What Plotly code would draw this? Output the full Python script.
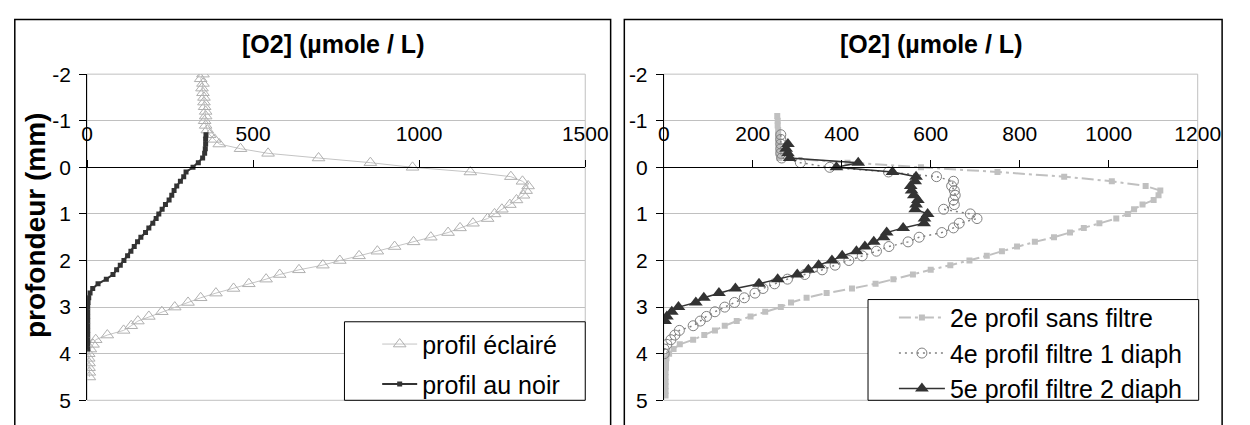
import plotly.graph_objects as go

# ---------------- data ----------------
depth_eclaire = [-2.0, -1.9, -1.8, -1.7, -1.6, -1.5, -1.4, -1.3, -1.2, -1.1,
                 -1.0, -0.9, -0.8, -0.7, -0.6, -0.5, -0.4, -0.3, -0.2, -0.1,
                 0.0, 0.1, 0.2, 0.3, 0.4, 0.5, 0.6, 0.7, 0.8, 0.9,
                 1.0, 1.1, 1.2, 1.3, 1.4, 1.5, 1.6, 1.7, 1.8, 1.9,
                 2.0, 2.1, 2.2, 2.3, 2.4, 2.5, 2.6, 2.7, 2.8, 2.9,
                 3.0, 3.1, 3.2, 3.3, 3.4, 3.5, 3.6, 3.7, 3.8, 3.9,
                 4.0, 4.1, 4.2, 4.3, 4.4, 4.5]
o2_eclaire = [349, 342, 349, 346, 349, 352, 352, 354, 357, 357,
              354, 357, 362, 369, 384, 398, 462, 545, 697, 853,
              980, 1154, 1276, 1311, 1328, 1322, 1314, 1293, 1273, 1249,
              1227, 1206, 1162, 1123, 1087, 1035, 983, 926, 874, 819,
              761, 710, 638, 580, 539, 487, 441, 388, 342, 304,
              264, 225, 186, 153, 133, 110, 61, 26, 18, 10,
              5, 5, 6, 6, 7, 7]

depth_noir = [-0.7, -0.6, -0.5, -0.4, -0.3, -0.2, -0.1,
              0.0, 0.1, 0.2, 0.3, 0.4, 0.5, 0.6, 0.7, 0.8, 0.9,
              1.0, 1.1, 1.2, 1.3, 1.4, 1.5, 1.6, 1.7, 1.8, 1.9,
              2.0, 2.1, 2.2, 2.3, 2.4, 2.5, 2.6, 2.7, 2.8, 2.9,
              3.0, 3.1, 3.2, 3.3, 3.4, 3.5, 3.6, 3.7, 3.8, 3.9]
o2_noir = [358, 357, 357, 356, 354, 348, 335,
           319, 298, 291, 281, 270, 262, 255, 247, 236, 226,
           216, 208, 198, 186, 176, 162, 152, 142, 132, 122,
           111, 100, 89, 78, 58, 33, 17, 9, 5, 3,
           2, 2, 2, 2, 2, 2, 2, 2, 2, 2]

depth_sans = [-1.1, -1.0, -0.9, -0.8, -0.7, -0.6, -0.5, -0.4, -0.3, -0.2, -0.1,
              0.0, 0.1, 0.2, 0.3, 0.4, 0.5, 0.6, 0.7, 0.8, 0.9,
              1.0, 1.1, 1.2, 1.3, 1.4, 1.5, 1.6, 1.7, 1.8, 1.9,
              2.0, 2.1, 2.2, 2.3, 2.4, 2.5, 2.6, 2.7, 2.8, 2.9,
              3.0, 3.1, 3.2, 3.3, 3.4, 3.5, 3.6, 3.7, 3.8, 3.9,
              4.0, 4.1, 4.2, 4.3, 4.4, 4.5, 4.6, 4.7, 4.8, 4.9]
o2_sans = [255, 256, 256, 257, 257, 257, 258, 258, 258, 260, 413,
           578, 750, 900, 1007, 1083, 1116, 1112, 1101, 1076, 1057,
           1043, 1017, 979, 944, 913, 877, 834, 794, 760, 726,
           687, 644, 600, 560, 516, 476, 423, 366, 321, 286,
           263, 228, 195, 164, 137, 115, 91, 66, 36, 22,
           12, 6, 5, 5, 4, 4, 4, 4, 4, 4]

depth_f1 = [-0.7, -0.6, -0.5, -0.4, -0.3, -0.2, -0.1,
            0.0, 0.1, 0.2, 0.3, 0.4, 0.5, 0.6, 0.7, 0.8, 0.9,
            1.0, 1.1, 1.2, 1.3, 1.4, 1.5, 1.6, 1.7, 1.8, 1.9,
            2.0, 2.1, 2.2, 2.3, 2.4, 2.5, 2.6, 2.7, 2.8, 2.9,
            3.0, 3.1, 3.2, 3.3, 3.4, 3.5, 3.6, 3.7, 3.8, 3.9, 4.0]
o2_f1 = [263, 263, 263, 263, 263, 265, 307,
         373, 505, 613, 651, 647, 653, 655, 651, 653, 629,
         689, 704, 664, 651, 625, 574, 549, 506, 478, 446,
         416, 385, 356, 317, 278, 249, 223, 205, 181, 159,
         137, 115, 96, 82, 66, 35, 25, 16, 7, 1, 1]

depth_f2 = [-0.5, -0.4, -0.3, -0.2, -0.1,
            0.0, 0.1, 0.2, 0.3, 0.4, 0.5, 0.6, 0.7, 0.8, 0.9,
            1.0, 1.1, 1.2, 1.3, 1.4, 1.5, 1.6, 1.7, 1.8, 1.9,
            2.0, 2.1, 2.2, 2.3, 2.4, 2.5, 2.6, 2.7, 2.8, 2.9,
            3.0, 3.1, 3.2, 3.3]
o2_f2 = [279, 275, 279, 283, 437,
         388, 514, 567, 565, 555, 557, 562, 571, 567, 565,
         593, 586, 585, 538, 501, 494, 472, 452, 433, 401,
         378, 348, 325, 300, 256, 214, 161, 124, 90, 72,
         33, 18, 7, 3]

y_ticks = [-2, -1, 0, 1, 2, 3, 4, 5]
y_ticktext = ["-2", "-1", "0", "1", "2", "3", "4", "5"]
x_ticks_left = [0, 500, 1000, 1500]
x_ticks_right = [0, 200, 400, 600, 800, 1000, 1200]

title_text = "[O2] (µmole / L)"
y_title = "profondeur (mm)"

# ---------------- layout geometry (pixels) ----------------
W, H = 1250, 425
FONT = "Liberation Sans, Arial, sans-serif"
left_px = (83, 593)
right_px = (673.4, 1220)
top_px, bot_px = 65.7, 410.5
y_range = [5, -2]


def px_x(p):
    return p / W


def px_y(p):
    return 1 - p / H


yd = [px_y(bot_px), px_y(top_px)]
# x axis crosses the y axis at depth 0
frac0 = (y_range[0] - 0) / (y_range[0] - y_range[1])
x_axis_pos = yd[0] + frac0 * (yd[1] - yd[0])

fig = go.Figure()

fig.add_trace(go.Scatter(
    x=o2_eclaire, y=depth_eclaire, name="profil éclairé", mode="lines+markers",
    line=dict(color="#c4c4c4", width=1),
    marker=dict(symbol="triangle-up-open", size=11, color="#b0b0b0", line=dict(width=1)),
    xaxis="x", yaxis="y", legend="legend", legendgroup="a"))
fig.add_trace(go.Scatter(
    x=o2_noir, y=depth_noir, name="profil au noir", mode="lines+markers",
    line=dict(color="#333333", width=2),
    marker=dict(symbol="square", size=5, color="#333333"),
    xaxis="x", yaxis="y", legend="legend", legendgroup="b"))

fig.add_trace(go.Scatter(
    x=o2_sans, y=depth_sans, name="2e profil sans filtre", mode="lines+markers",
    line=dict(color="#c0c0c0", width=2, dash="12px,4px,3px,4px"),
    marker=dict(symbol="square", size=6, color="#c0c0c0"),
    xaxis="x2", yaxis="y2", legend="legend2"))
fig.add_trace(go.Scatter(
    x=o2_f1, y=depth_f1, name="4e profil filtre 1 diaph", mode="lines+markers",
    line=dict(color="#808080", width=1.5, dash="2px,4px"),
    marker=dict(symbol="circle-open", size=10, color="#808080", line=dict(width=1)),
    xaxis="x2", yaxis="y2", legend="legend2"))
fig.add_trace(go.Scatter(
    x=o2_f2, y=depth_f2, name="5e profil filtre 2 diaph", mode="lines+markers",
    line=dict(color="#333333", width=1.5),
    marker=dict(symbol="triangle-up", size=12, color="#333333"),
    xaxis="x2", yaxis="y2", legend="legend2"))

xaxis_common = dict(
    side="top", anchor="free", position=x_axis_pos, showgrid=False, zeroline=False,
    showline=True, linecolor="black", linewidth=1, ticks="outside", ticklen=7,
    tickcolor="black", tickfont=dict(size=21, color="black", family=FONT),
    fixedrange=True, ticklabelstandoff=11)
yaxis_common = dict(
    range=y_range, tickvals=y_ticks, ticktext=y_ticktext, showgrid=True,
    gridcolor="#c0c0c0", gridwidth=1, zeroline=False, showline=True,
    linecolor="black", linewidth=1, ticks="outside", ticklen=7, tickcolor="black",
    tickfont=dict(size=21, color="black", family=FONT), fixedrange=True,
    ticklabelstandoff=4)

legend_common = dict(xanchor="left", yanchor="top", bgcolor="rgba(0,0,0,0)",
                     borderwidth=0, font=dict(size=25, family=FONT, color="black"))

fig.update_layout(
    width=W, height=H, margin=dict(l=0, r=0, t=0, b=0),
    paper_bgcolor="white", plot_bgcolor="white",
    font=dict(family=FONT, color="black"),
    xaxis=dict(domain=[px_x(left_px[0]), px_x(left_px[1])], range=[0, 1500],
               tickvals=x_ticks_left, **xaxis_common),
    yaxis=dict(domain=yd, anchor="x", **yaxis_common),
    xaxis2=dict(domain=[px_x(right_px[0]), px_x(right_px[1])], range=[0, 1200],
                tickvals=x_ticks_right, **xaxis_common),
    yaxis2=dict(domain=yd, anchor="x2", **yaxis_common),
    legend=dict(x=px_x(380), y=px_y(327), itemwidth=35, tracegroupgap=4.5,
                **legend_common),
    legend2=dict(x=px_x(909), y=px_y(299), itemwidth=46, tracegroupgap=0,
                 **legend_common),
    showlegend=True,
)

shapes = []
for xr, yr in (("x domain", "y domain"), ("x2 domain", "y2 domain")):
    shapes.append(dict(type="rect", xref=xr, yref=yr, x0=0, x1=1, y0=0, y1=1,
                       line=dict(color="#c0c0c0", width=1), layer="below"))
# legend boxes
for x0, x1, y0, y1 in ((346.5, 593, 327.5, 410.5), (882.5, 1221, 304, 410.5)):
    shapes.append(dict(type="rect", xref="paper", yref="paper",
                       x0=px_x(x0), x1=px_x(x1), y0=px_y(y1), y1=px_y(y0),
                       fillcolor="white", line=dict(color="black", width=1),
                       layer="above"))
# outer panel frames
for x0, x1 in ((9, 619), (633, 1245)):
    shapes.append(dict(type="rect", xref="paper", yref="paper",
                       x0=px_x(x0), x1=px_x(x1), y0=px_y(440), y1=px_y(8),
                       line=dict(color="black", width=1.5)))
fig.update_layout(shapes=shapes)

for cx in (335, 947):
    fig.add_annotation(text="<b>%s</b>" % title_text, x=px_x(cx), y=px_y(34),
                       xref="paper", yref="paper", showarrow=False,
                       xanchor="center", yanchor="middle", font=dict(size=25, family=FONT))
fig.add_annotation(text="<b>%s</b>" % y_title, x=px_x(31), y=px_y(225),
                   xref="paper", yref="paper", showarrow=False, textangle=-90,
                   xanchor="center", yanchor="middle", font=dict(size=28, family=FONT))

fig.write_html("out.html")
